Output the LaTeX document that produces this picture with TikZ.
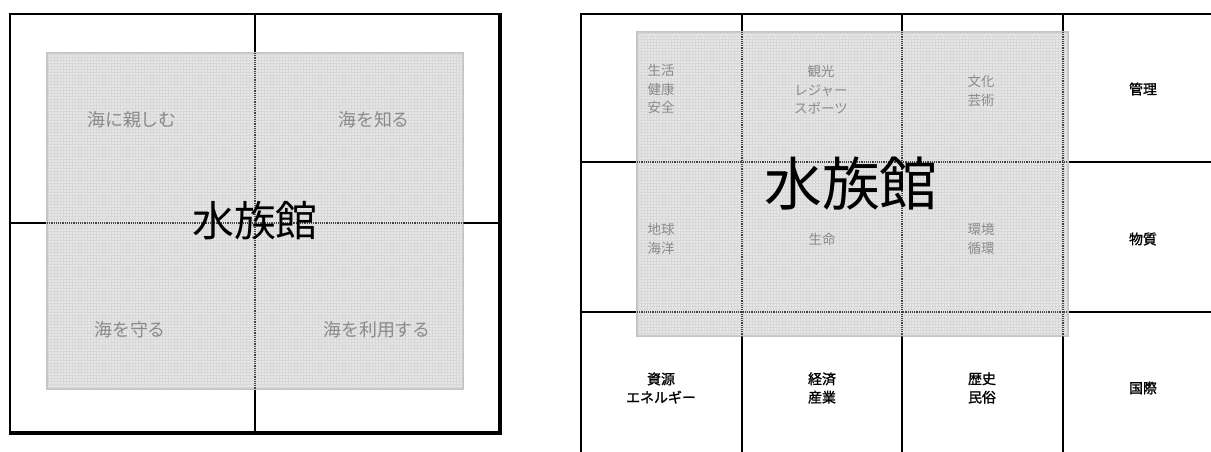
\documentclass[tikz,border=0pt]{standalone}
\usepackage{fontspec}
\newfontfamily\jp{Noto Sans CJK JP}
\newfontfamily\jpbold[FakeBold=1.2]{Noto Sans CJK JP}
\definecolor{panel}{HTML}{E6E6E6}
\definecolor{panelgrid}{HTML}{D8D8D8}
\definecolor{paneledge}{HTML}{C4C4C4}
\definecolor{softtext}{HTML}{8A8A8A}
\definecolor{dotline}{HTML}{444444}
\tikzset{
  x=1bp, y=-1bp,
  gridline/.style={line width=2bp, black},
  heavyline/.style={line width=3.5bp, black},
  panelbox/.style={fill=panel, draw=paneledge, line width=1.2bp},
  hiddenline/.style={line width=1.8bp, dotline, dash pattern=on 1.2bp off 1bp},
  softlabel/.style={inner sep=0pt, align=center, text=softtext, font=\jp\fontsize{18}{22}\selectfont},
  smallsoft/.style={inner sep=0pt, align=center, text=softtext, font=\jp\fontsize{13.5}{18.5}\selectfont},
  smallblack/.style={inner sep=0pt, align=center, text=black, font=\jpbold\fontsize{14}{18.5}\selectfont},
  bigtitle/.style={inner sep=0pt, text=black, font=\jp\fontsize{#1}{#1}\selectfont},
}
\begin{document}
\begin{tikzpicture}
\useasboundingbox (0,0) rectangle (1211,452);
\fill[white] (0,0) rectangle (1211,452);

% ---------------- left diagram ----------------
\draw[gridline] (10,14) rectangle (500,432);
\draw[heavyline] (500,13) -- (500,433.5) -- (9,433.5);
\draw[gridline] (255,14) -- (255,432);
\draw[gridline] (10,223) -- (500,223);
\draw[panelbox] (47,53) rectangle (463,389);
\begin{scope}
\clip (47.6,53.6) rectangle (462.4,388.4);
\foreach \i in {48,51,...,463} \draw[panelgrid, line width=0.4bp] (\i,53) -- (\i,389);
\foreach \j in {54,57,...,389} \draw[panelgrid, line width=0.4bp] (47,\j) -- (463,\j);
\end{scope}
\draw[hiddenline] (255,53) -- (255,389);
\draw[hiddenline] (47,223) -- (463,223);

\node[softlabel] (l1) at (132,120) {海に親しむ};
\node[softlabel] (l2) at (374,120) {海を知る};
\node[softlabel] (l3) at (130,330) {海を守る};
\node[softlabel] (l4) at (377,330) {海を利用する};
\node[bigtitle=42] (ltitle) at (255,221) {水族館};

% ---------------- right diagram ----------------
\draw[gridline] (581,452) -- (581,14) -- (1211,14);
\foreach \xx in {742,902,1063} \draw[gridline] (\xx,14) -- (\xx,452);
\foreach \yy in {162,312} \draw[gridline] (581,\yy) -- (1211,\yy);
\draw[panelbox] (637,32) rectangle (1068,336);
\begin{scope}
\clip (637.6,32.6) rectangle (1067.4,335.4);
\foreach \i in {638,641,...,1068} \draw[panelgrid, line width=0.4bp] (\i,32) -- (\i,336);
\foreach \j in {33,36,...,336} \draw[panelgrid, line width=0.4bp] (637,\j) -- (1068,\j);
\end{scope}
\foreach \xx in {742,902,1063} \draw[hiddenline] (\xx,32) -- (\xx,336);
\foreach \yy in {162,312} \draw[hiddenline] (637,\yy) -- (1068,\yy);

\node[smallsoft] (r11) at (661,89) {生活\\健康\\安全};
\node[smallsoft] (r12) at (821,90) {観光\\レジャー\\スポーツ};
\node[smallsoft] (r13) at (981,91) {文化\\芸術};
\node[smallblack] (r14) at (1143,89) {管理};
\node[smallsoft] (r21) at (661,239) {地球\\海洋};
\node[smallsoft] (r22) at (822,239) {生命};
\node[smallsoft] (r23) at (981,239) {環境\\循環};
\node[smallblack] (r24) at (1143,239) {物質};
\node[smallblack] (r31) at (661,388) {資源\\エネルギー};
\node[smallblack] (r32) at (822,388) {経済\\産業};
\node[smallblack] (r33) at (982,388) {歴史\\民俗};
\node[smallblack] (r34) at (1143,388) {国際};
\node[bigtitle=58] (rtitle) at (851,184) {水族館};
\end{tikzpicture}
\end{document}
